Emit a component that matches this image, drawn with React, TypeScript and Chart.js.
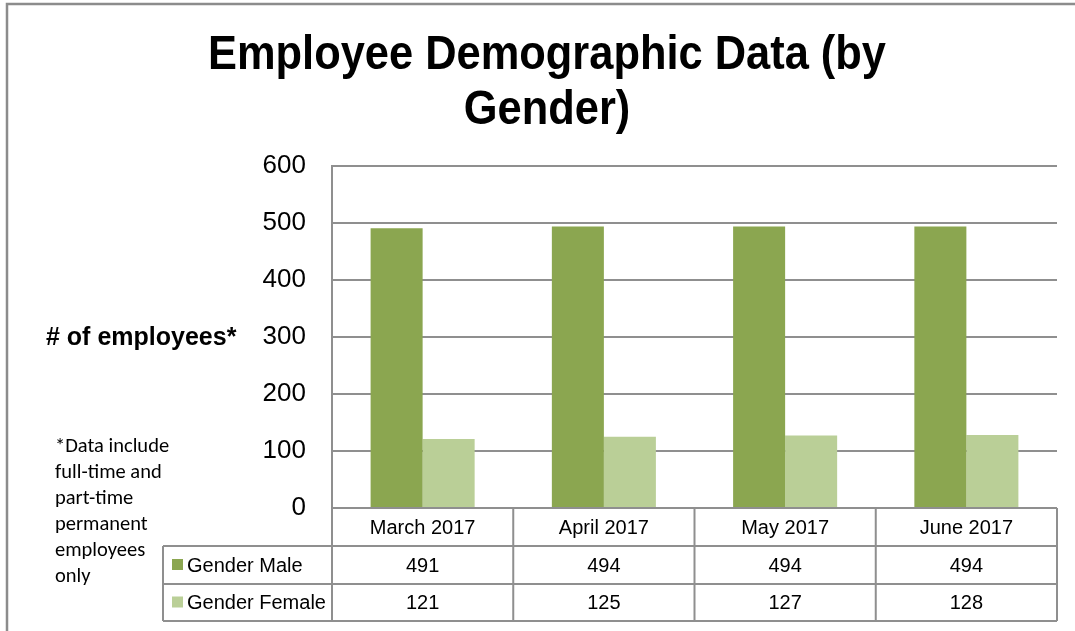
import React, { useEffect, useRef } from "react";
import { Chart, registerables } from "chart.js";

Chart.register(...registerables);

const categories = ["March 2017", "April 2017", "May 2017", "June 2017"];
const maleValues = [491, 494, 494, 494];
const femaleValues = [121, 125, 127, 128];
const seriesNames = ["Gender Male", "Gender Female"];
const seriesColors = ["#8BA650", "#BACF97"];
const titleLines = ["Employee Demographic Data (by", "Gender)"];
const yAxisLabel = "# of employees*";
const noteLines = ["*Data include", "full-time and", "part-time", "permanent", "employees", "only"];
const yMin = 0;
const yMax = 600;
const yStep = 100;

const LINE = "#8f8f8f";

const decorPlugin = {
  id: "decor",
  afterDraw(chart: any) {
    const ctx: CanvasRenderingContext2D = chart.ctx;
    const area = chart.chartArea;
    const n = categories.length;
    const colW = (area.right - area.left) / n;
    ctx.save();

    // outer frame
    ctx.strokeStyle = "#8c8c8c";
    ctx.lineWidth = 2.5;
    ctx.beginPath();
    ctx.moveTo(7, 640);
    ctx.lineTo(7, 4);
    ctx.lineTo(1080, 4);
    ctx.stroke();

    // title
    ctx.fillStyle = "#000";
    ctx.textAlign = "center";
    ctx.textBaseline = "alphabetic";
    ctx.font = "bold 48px 'Liberation Sans Narrow', 'Liberation Sans', Arial, sans-serif";
    const w0 = ctx.measureText(titleLines[0]).width;
    const sx = 678 / w0;
    titleLines.forEach((t, i) => {
      ctx.save();
      ctx.translate(547, 69 + i * 55);
      ctx.scale(sx, 1);
      ctx.fillText(t, 0, 0);
      ctx.restore();
    });

    // axis label
    ctx.textAlign = "left";
    ctx.font = "bold 25px 'Liberation Sans', Arial, sans-serif";
    ctx.fillText(yAxisLabel, 46, 345);

    // note
    ctx.font = "20.5px Carlito, Lato, sans-serif";
    noteLines.forEach((t, i) => ctx.fillText(t, 55, 452 + i * 26));

    // table
    const top = area.bottom;
    const r1 = top + 38;
    const r2 = top + 76;
    const r3 = top + 113;
    const leftCol = 163;
    ctx.strokeStyle = LINE;
    ctx.lineWidth = 2;
    ctx.beginPath();
    for (let i = 0; i <= n; i++) {
      const x = area.left + i * colW;
      ctx.moveTo(x, top);
      ctx.lineTo(x, r3);
    }
    ctx.moveTo(leftCol, r1);
    ctx.lineTo(leftCol, r3);
    [r1, r2, r3].forEach((y) => {
      ctx.moveTo(leftCol, y);
      ctx.lineTo(area.right, y);
    });
    ctx.stroke();

    ctx.font = "20px 'Liberation Sans', Arial, sans-serif";
    ctx.textBaseline = "middle";
    ctx.textAlign = "center";
    ctx.fillStyle = "#000";
    const rowsVals = [maleValues, femaleValues];
    categories.forEach((c, i) => {
      const cx = area.left + (i + 0.5) * colW;
      ctx.fillText(c, cx, (top + r1) / 2 + 1);
      ctx.fillText(String(rowsVals[0][i]), cx, (r1 + r2) / 2 + 1);
      ctx.fillText(String(rowsVals[1][i]), cx, (r2 + r3) / 2 + 1);
    });
    ctx.textAlign = "left";
    const rowMid = [(r1 + r2) / 2, (r2 + r3) / 2];
    seriesNames.forEach((s, i) => {
      ctx.fillStyle = seriesColors[i];
      ctx.fillRect(172, rowMid[i] - 6, 11, 11);
      ctx.fillStyle = "#000";
      ctx.fillText(s, 187, rowMid[i] + 1);
    });

    ctx.restore();
  },
};

export default function App() {
  const ref = useRef<HTMLCanvasElement | null>(null);
  useEffect(() => {
    if (!ref.current) return;
    const chart = new Chart(ref.current, {
      type: "bar",
      data: {
        labels: categories,
        datasets: [
          {
            label: seriesNames[0],
            data: maleValues,
            backgroundColor: seriesColors[0],
            categoryPercentage: 0.574,
            barPercentage: 1,
          },
          {
            label: seriesNames[1],
            data: femaleValues,
            backgroundColor: seriesColors[1],
            categoryPercentage: 0.574,
            barPercentage: 1,
          },
        ],
      },
      options: {
        animation: false,
        responsive: false,
        devicePixelRatio: 1,
        layout: { padding: { top: 166, right: 18, bottom: 123, left: 0 } },
        plugins: {
          legend: { display: false },
          tooltip: { enabled: false },
          title: { display: false },
        },
        scales: {
          x: { display: false },
          y: {
            min: yMin,
            max: yMax,
            ticks: {
              stepSize: yStep,
              padding: 26,
              color: "#000",
              font: { family: "'Liberation Sans', Arial, sans-serif", size: 26 },
            },
            grid: { color: LINE, lineWidth: 2, drawTicks: false },
            border: { display: true, color: LINE, width: 2 },
            afterFit(scale: any) {
              scale.width = 332;
            },
          },
        },
      },
      plugins: [decorPlugin],
    });
    return () => chart.destroy();
  }, []);
  return (
    <div style={{ position: "absolute", left: 0, top: 0, width: 1075, height: 631, background: "#fff" }}>
      <canvas ref={ref} width={1075} height={631} />
    </div>
  );
}
